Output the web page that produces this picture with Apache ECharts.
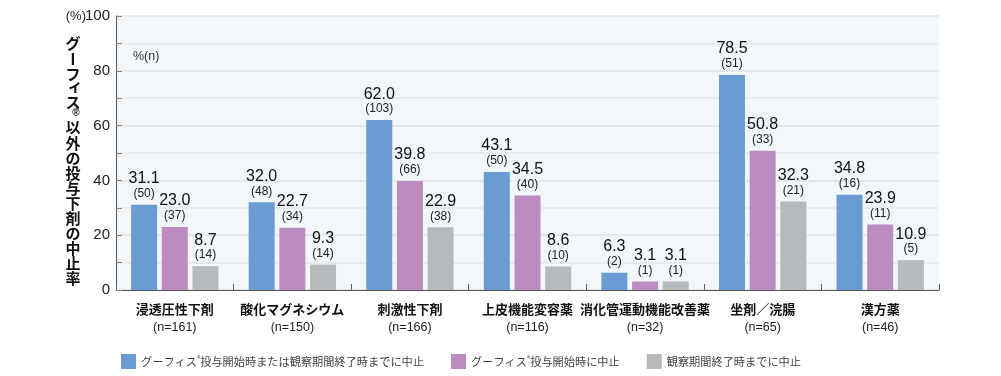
<!DOCTYPE html>
<html><head><meta charset="utf-8">
<script src="https://cdn.jsdelivr.net/npm/echarts@6/dist/echarts.min.js"></script>
<style>html,body{margin:0;padding:0;background:#fff}#c{width:1001px;height:376px}</style>
</head><body><div id="c"></div>
<script>
const categories = ['浸透圧性下剤','酸化マグネシウム','刺激性下剤','上皮機能変容薬','消化管運動機能改善薬','坐剤／浣腸','漢方薬'];
const categoryN = [161,150,166,116,32,65,46];
const seriesNames = ['グーフィス®投与開始時または観察期間終了時までに中止','グーフィス®投与開始時に中止','観察期間終了時までに中止'];
const pctAny = [31.1,32.0,62.0,43.1,6.3,78.5,34.8];
const nAny = [50,48,103,50,2,51,16];
const pctStart = [23.0,22.7,39.8,34.5,3.1,50.8,23.9];
const nStart = [37,34,66,40,1,33,11];
const pctEnd = [8.7,9.3,22.9,8.6,3.1,32.3,10.9];
const nEnd = [14,14,38,10,1,21,5];
const yTicks = [0,20,40,60,80,100];
const yTitle = 'グーフィス®以外の投与下剤の中止率';
const colors = ['#6a9bd2','#bc8bbf','#b6babc'];

const JP = '"Noto Sans CJK JP", "Noto Sans", sans-serif';
const NUM = '"Liberation Sans", Arial, sans-serif';

function mkSeries(name, vals, ns, color){
  return {
    name, type:'bar', barWidth:26, barGap:'18%',
    itemStyle:{color},
    data: vals.map((v,i)=>({value:v, n:ns[i]})),
    label:{
      show:true, position:'top', distance:4,
      formatter: p => '{v|' + p.value.toFixed(1) + '}\n{n|(' + p.data.n + ')}',
      rich:{
        v:{fontFamily:NUM, fontSize:16, color:'#111', lineHeight:16, align:'center'},
        n:{fontFamily:NUM, fontSize:12, color:'#222', lineHeight:14, align:'center'}
      }
    }
  };
}

// vertical title characters
const titleChars = Array.from(yTitle);
const titleY = [43,59,74,88,102,113,127,143,158,173,188,203,218,233,248,263,278];
const titleGraphics = titleChars.map((ch,i)=>{
  const isR = ch === '®';
  const isBar = ch === 'ー';
  const isSmall = ch === 'ィ';
  return {
    type:'text', x: isR ? 76 : (isSmall ? 75 : 73), y: titleY[i] + (isSmall ? -3 : 0),
    rotation: isBar ? -Math.PI/2 : 0,
    style:{text:ch, fontFamily:NUM, fontWeight:'bold', fontSize: isR ? 10 : 15,
      fill:'#111', align:'center', verticalAlign:'middle',
      ...(isR ? {} : {fontFamily:JP})}
  };
});

const chart = echarts.init(document.getElementById('c'));
chart.setOption({
  animation:false,
  backgroundColor:'#fff',
  grid:{left:116, right:62, top:16, bottom:86, show:true, backgroundColor:'#f1f7fb', borderWidth:0},
  legend:{
    left:116, top:349, itemWidth:15, itemHeight:15, itemGap:27,
    icon:'rect',
    textStyle:{fontFamily:JP, fontSize:11.2, color:'#444',
      rich:{r:{fontSize:7, verticalAlign:'top', color:'#444', padding:[0,0,6,0]}}},
    formatter: name => name.replace('®','{r|®}'),
    data: seriesNames
  },
  xAxis:{
    type:'category', data:categories,
    axisLine:{lineStyle:{color:'#555', width:1}},
    axisTick:{show:true, inside:true, length:6, lineStyle:{color:'#666'}},
    axisLabel:{
      interval:0, margin:10,
      formatter:(v,i)=>'{c|' + v + '}\n{n|(n=' + categoryN[i] + ')}',
      rich:{
        c:{fontFamily:JP, fontWeight:'bold', fontSize:13, color:'#111', lineHeight:19},
        n:{fontFamily:NUM, fontSize:12.5, color:'#222', lineHeight:18}
      }
    }
  },
  yAxis:{
    type:'value', min:0, max:100, interval:20,
    axisLine:{show:true, lineStyle:{color:'#555'}},
    axisTick:{show:true, inside:true, length:6, lineStyle:{color:'#888'}},
    minorTick:{show:true, splitNumber:2, length:6, lineStyle:{color:'#888'}},
    splitLine:{show:true, lineStyle:{color:'#dde4e8', width:1.5}},
    minorSplitLine:{show:true, lineStyle:{color:'#e2e8ec', width:1.5}},
    axisLabel:{fontFamily:NUM, fontSize:15, color:'#222', margin:6,
      formatter:v=> yTicks.includes(v) ? String(v) : ''}
  },
  graphic:[
    {type:'text', x:86, y:16, style:{text:'(%)', fontFamily:NUM, fontSize:13, fill:'#222', align:'right', verticalAlign:'middle'}},
    {type:'text', left:133, top:50, style:{text:'%(n)', fontFamily:NUM, fontSize:12.5, fill:'#333'}}
  ].concat(titleGraphics),
  series:[
    mkSeries(seriesNames[0], pctAny, nAny, colors[0]),
    mkSeries(seriesNames[1], pctStart, nStart, colors[1]),
    mkSeries(seriesNames[2], pctEnd, nEnd, colors[2])
  ]
});
</script></body></html>
